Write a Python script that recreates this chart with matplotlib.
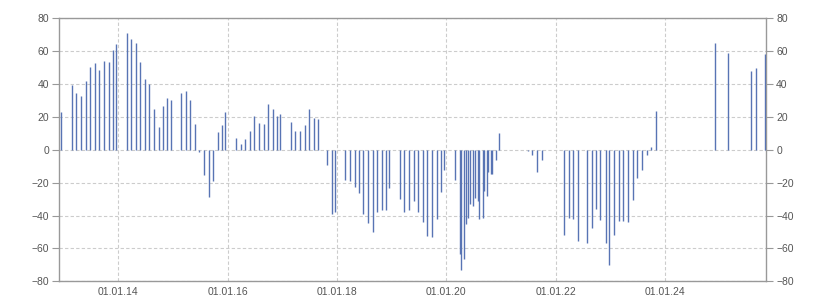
import numpy as np
import pandas as pd
import matplotlib
matplotlib.use("Agg")
import matplotlib.pyplot as plt
import matplotlib.dates as mdates

dates = [
    "2012-12-16", "2013-02-28", "2013-03-26", "2013-04-29", "2013-06-01", "2013-06-28",
    "2013-07-31", "2013-08-27", "2013-09-29", "2013-11-02", "2013-11-28", "2013-12-19",
    "2014-03-02", "2014-03-28", "2014-05-01", "2014-05-27", "2014-06-30", "2014-07-27",
    "2014-08-29", "2014-10-01", "2014-10-28", "2014-11-24", "2014-12-20", "2015-02-25",
    "2015-03-31", "2015-04-26", "2015-05-30", "2015-06-25", "2015-07-29", "2015-08-31",
    "2015-09-27", "2015-10-30", "2015-11-26", "2015-12-16", "2016-02-27", "2016-04-01",
    "2016-04-28", "2016-05-31", "2016-06-27", "2016-07-30", "2016-09-02", "2016-09-28",
    "2016-11-01", "2016-11-27", "2016-12-17", "2017-03-01", "2017-03-27", "2017-04-30",
    "2017-06-02", "2017-06-29", "2017-08-01", "2017-08-28", "2017-10-27", "2017-11-30",
    "2017-12-20", "2018-02-24", "2018-03-30", "2018-05-02", "2018-05-29", "2018-06-25",
    "2018-07-28", "2018-08-30", "2018-09-26", "2018-10-29", "2018-11-25", "2018-12-15",
    "2019-02-27", "2019-03-25", "2019-04-28", "2019-05-31", "2019-06-27", "2019-07-30",
    "2019-08-26", "2019-09-28", "2019-11-01", "2019-11-27", "2019-12-17", "2020-02-29",
    "2020-04-02", "2020-04-09", "2020-04-29", "2020-05-12", "2020-05-26", "2020-06-08",
    "2020-06-28", "2020-07-11", "2020-07-31", "2020-08-07", "2020-09-03", "2020-09-09",
    "2020-09-29", "2020-10-06", "2020-10-26", "2020-11-02", "2020-11-29", "2020-12-19",
    "2021-06-30", "2021-07-27", "2021-08-29", "2021-10-01", "2022-02-26", "2022-03-31",
    "2022-04-27", "2022-05-30", "2022-07-29", "2022-09-01", "2022-09-27", "2022-10-24",
    "2022-12-03", "2022-12-23", "2023-01-25", "2023-02-28", "2023-03-27", "2023-04-29",
    "2023-06-01", "2023-06-28", "2023-07-31", "2023-09-03", "2023-09-30", "2023-11-02",
    "2024-11-30", "2025-02-25", "2025-07-28", "2025-08-31", "2025-10-30",
]
values = [
    23.0, 39.4, 34.5, 32.7, 41.8, 50.3,
    52.7, 48.5, 53.9, 53.3, 60.6, 64.2,
    70.9, 67.3, 64.8, 53.3, 43.0, 40.0,
    24.8, 13.9, 26.7, 31.5, 30.3, 34.5,
    35.8, 30.3, 15.8, -1.2, -15.2, -29.0,
    -19.0, 10.9, 15.2, 23.0, 7.3, 3.6,
    6.7, 11.5, 20.6, 16.4, 15.8, 27.9,
    24.8, 20.6, 21.8, 17.0, 11.5, 11.5,
    15.2, 24.8, 19.4, 18.8, -9.4, -38.8,
    -37.6, -18.6, -19.2, -22.9, -26.5, -38.8,
    -44.3, -49.8, -37.6, -36.9, -36.9, -23.5,
    -30.2, -37.6, -36.9, -31.4, -37.6, -43.7,
    -52.2, -52.9, -41.8, -25.9, -12.4, -18.6,
    -63.3, -73.1, -66.3, -44.9, -41.2, -32.7,
    -33.9, -29.6, -31.4, -41.8, -41.2, -25.3,
    -27.8, -13.7, -14.9, -14.9, -6.3, 10.0,
    -0.5, -3.3, -13.7, -6.3, -51.6, -41.2,
    -41.8, -55.3, -56.5, -47.3, -36.3, -42.4,
    -56.5, -70.0, -51.6, -43.1, -43.1, -43.7,
    -30.8, -17.3, -12.4, -3.3, 1.8, 23.6,
    64.8, 58.8, 47.9, 49.7, 58.2,
]
tick_dates = ["2014-01-01", "2016-01-01", "2018-01-01", "2020-01-01", "2022-01-01", "2024-01-01"]
y_ticks = [-80, -60, -40, -20, 0, 20, 40, 60, 80]


def main():
    plt.rcParams['font.family'] = ['Liberation Sans', 'DejaVu Sans']

    x = pd.to_datetime(dates)
    fig, ax = plt.subplots(figsize=(8.25, 3.0), dpi=100)
    fig.subplots_adjust(left=0.0713, right=0.929, bottom=0.0623, top=0.939)

    # one thin bar per reading
    ax.vlines(x, 0, values, color='#5874b4', linewidth=1.0, zorder=3)

    ax.set_xlim(pd.Timestamp("2012-11-30"), pd.Timestamp("2025-11-07"))
    ax.set_ylim(-80, 80)
    ax.set_yticks(y_ticks)
    ax.set_xticks(pd.to_datetime(tick_dates))
    ax.xaxis.set_major_formatter(mdates.DateFormatter("%d.%m.%y"))

    ax.grid(True, color='#cccccc', linestyle=(0, (3, 2)), linewidth=0.8, zorder=0)
    for s in ax.spines.values():
        s.set_color('#999999')
        s.set_linewidth(1.0)

    ax.tick_params(axis='y', which='both', left=True, right=True, labelleft=True, labelright=True,
                   length=5, width=0.8, color='#999999', labelsize=7.5, labelcolor='#555555', pad=2)
    ax.tick_params(axis='x', length=0, labelsize=7.5, labelcolor='#555555', pad=4)

    fig.savefig("out.png", dpi=100)
    plt.close(fig)


if __name__ == "__main__":
    main()
